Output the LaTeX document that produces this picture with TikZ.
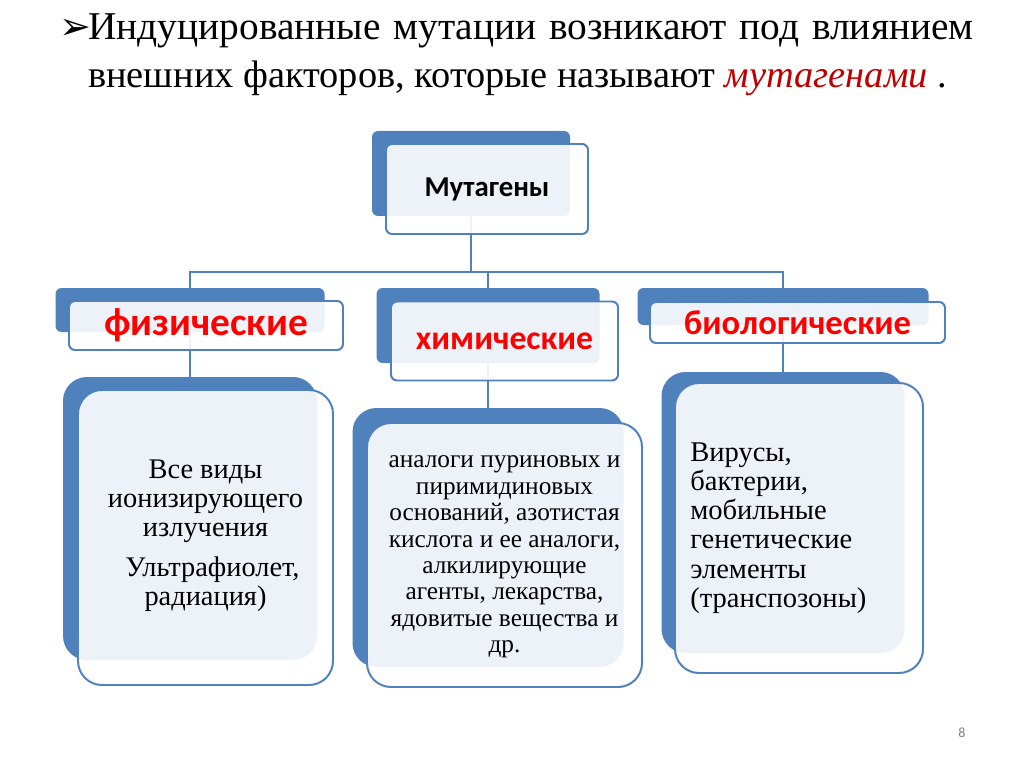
\documentclass[tikz,border=0pt]{standalone}
\usepackage{fontspec}
\setmainfont{Liberation Serif}
\newfontfamily\labelfont{Carlito}
\newfontfamily\symbfont{DejaVu Sans}
\usetikzlibrary{positioning,backgrounds}
\definecolor{smartblue}{HTML}{4F81BD}
\definecolor{darkred}{HTML}{C00000}
\newcommand{\pu}{0.025cm}
\newcommand{\widespaces}{\spaceskip=9.1pt\relax}

\begin{document}
\begin{tikzpicture}[
    x=\pu, y=-\pu,
    backbox/.style={rectangle, fill=smartblue, draw=none, inner sep=0pt},
    frontbox/.style={rectangle, draw=smartblue, line width=1.4pt, fill=white, fill opacity=0.9, text opacity=1, inner sep=0pt},
    smallround/.style={rounded corners=0.15cm},
    biground/.style={rounded corners=0.6cm},
    boxsize/.style 2 args={minimum width=#1*\pu, minimum height=#2*\pu},
    link/.style={draw=smartblue, line width=1.4pt},
    kind/.style={font=\labelfont\bfseries\fontsize{#1}{#1}\selectfont, text=red},
    desc/.style 2 args={font=\fontsize{#1}{#2}\selectfont, align=center, inner sep=0pt},
    titletext/.style={anchor=base west, inner sep=0pt, font=\fontsize{#1}{35}\selectfont},
]
\useasboundingbox (0,0) rectangle (1024,767);

% title
\node[titletext=27, font=\symbfont\fontsize{27}{27}\selectfont] (bullet) at (59,40) {➢};
\node[titletext=28] (line1) at (88,40) {\widespaces Индуцированные мутации возникают под влиянием};
\node[titletext=27.3] (line2) at (88,88) {внешних факторов, которые называют \textcolor{darkred}{\itshape мутагенами} .};

% root
\node[backbox, smallround, boxsize={198}{85}] (mutb) at (471,173.5) {};
\node[frontbox, smallround, boxsize={202}{90}, font=\labelfont\bfseries\fontsize{20.5}{20.5}\selectfont] (mutf) at (487,189) {Мутагены};

% kinds of mutagens
\node[backbox, smallround, boxsize={269}{44}] (physb) at (190,310) {};
\node[frontbox, smallround, boxsize={274}{49}, kind=28] (physf) at (206,325.5) {физические};
\node[backbox, smallround, boxsize={223}{75}] (chemb) at (488,325.5) {};
\node[frontbox, smallround, boxsize={227}{79}, kind=24] (chemf) at (504.5,341) {химические};
\node[backbox, smallround, boxsize={291}{37}] (biob) at (783,306.5) {};
\node[frontbox, smallround, boxsize={295}{41}, kind=24.6] (biof) at (797.5,322.5) {биологические};

% descriptions
\node[backbox, biground, boxsize={254}{283}] (physlb) at (190,518.5) {};
\node[frontbox, biground, boxsize={255}{295}] (physlf) at (205.5,537.5) {};
\node[backbox, biground, boxsize={271}{259}] (chemlb) at (488,537.5) {};
\node[frontbox, biground, boxsize={275}{264}] (chemlf) at (504.5,555) {};
\node[backbox, biground, boxsize={243}{281}] (biolb) at (783,512.5) {};
\node[frontbox, biground, boxsize={248}{290}] (biolf) at (799,528) {};

\node[desc={20.2}{20.5}] (phystext) at ([yshift=0.05cm]physlf.center) {Все виды\\ионизирующего\\излучения\\[8pt] \hspace*{0.35cm}Ультрафиолет,\\радиация)};
\node[desc={18}{18.8}] (chemtext) at ([yshift=-0.05cm]chemlf.center) {аналоги пуриновых и\\пиримидиновых\\оснований, азотистая\\кислота и ее аналоги,\\алкилирующие\\агенты, лекарства,\\ядовитые вещества и\\др.};
\node[desc={20.3}{20.8}, align=left, anchor=west] (biotext) at ([xshift=0.4cm]biolf.west) {Вирусы,\\бактерии,\\мобильные\\генетические\\элементы\\(транспозоны)};

\node[font=\labelfont\fontsize{10}{12}\selectfont, text=gray] (pagenum) at (962,733) {8};

% connectors
\coordinate (bus) at (471,272);
\begin{scope}[on background layer]
\fill[white] (0,0) rectangle (1024,767);
\draw[link] (mutb.south) -- (mutb.south |- bus) -| (physb.north);
\draw[link] (mutb.south |- bus) -| (chemb.north);
\draw[link] (mutb.south |- bus) -| (biob.north);
\draw[link] (physb.south) -- (physlb.north);
\draw[link] (chemb.south) -- (chemlb.north);
\draw[link] (biob.south) -- (biolb.north);
\end{scope}
\end{tikzpicture}
\end{document}
